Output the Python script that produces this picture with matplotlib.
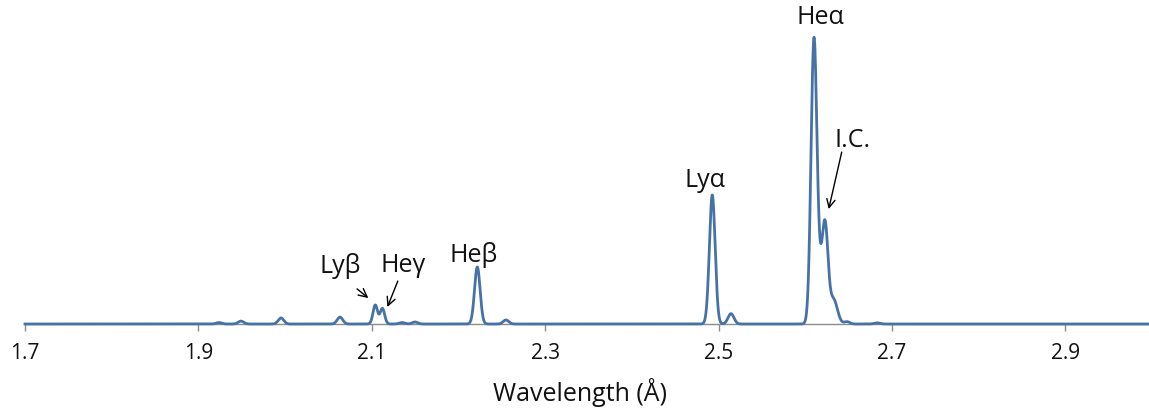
import numpy as np
import matplotlib.pyplot as plt

# --- line list (wavelength in A, peak height rel. to He-alpha) ---
line_centers = [1.9238, 1.9491, 1.9953, 2.0633, 2.1040, 2.1122, 2.1348, 2.1498,
                2.2217, 2.2548, 2.4927, 2.5143, 2.6100, 2.6168, 2.6228, 2.6325,
                2.6481, 2.6827]
line_heights = [0.005, 0.010, 0.021, 0.024, 0.066, 0.054, 0.005, 0.007,
                0.198, 0.014, 0.448, 0.036, 0.985, 0.10, 0.335, 0.085,
                0.008, 0.004]
line_sigmas = [0.0032, 0.0032, 0.0032, 0.0032, 0.0026, 0.0026, 0.0032, 0.0032,
               0.0032, 0.0032, 0.0033, 0.0034, 0.0034, 0.0032, 0.0034, 0.0045,
               0.0032, 0.0032]

# labels: (text, x, y)
labels = [('Heα', 2.617, 1.066), ('I.C.', 2.654, 0.642), ('Lyα', 2.484, 0.503),
          ('Heβ', 2.218, 0.243), ('Lyβ', 2.064, 0.205), ('Heγ', 2.136, 0.205)]
# arrows: (tail, tip)
arrows = [((2.642, 0.597), (2.627, 0.399)),
          ((2.083, 0.122), (2.096, 0.090)),
          ((2.130, 0.149), (2.118, 0.059))]

xticks = [1.7, 1.9, 2.1, 2.3, 2.5, 2.7, 2.9]

# spectrum built from the line list
wl = np.linspace(1.7, 3.0, 6000)
flux = np.zeros_like(wl)
for c, h, s in zip(line_centers, line_heights, line_sigmas):
    flux += h * np.exp(-0.5 * ((wl - c) / s) ** 2)

plt.rcParams['font.family'] = ['Open Sans', 'DejaVu Sans']

fig = plt.figure(figsize=(11.49, 4.10), dpi=100)
ax = fig.add_axes([25 / 1149, 85 / 410, 1124 / 1149, 325 / 410])

ax.plot(wl, flux, color='#4672A8', lw=2.0, clip_on=False, zorder=3)

ax.set_xlim(1.7, 1.7 + 1124 / 867)
ax.set_ylim(0, 325 / 288)
for s in ['top', 'left', 'right']:
    ax.spines[s].set_visible(False)
ax.spines['bottom'].set_color('#8c8c8c')
ax.spines['bottom'].set_linewidth(1.0)
ax.set_yticks([])
ax.set_xticks(xticks)
ax.set_xticklabels([f'{t:.1f}' for t in xticks])
ax.tick_params(axis='x', direction='out', length=5, width=1.0, color='#8c8c8c',
               labelsize=15, pad=8, labelcolor='#111111')
ax.set_xlabel('Wavelength (Å)', fontsize=18, labelpad=10, color='#111111')
ax.xaxis.label.set_x((580 - 25) / 1124)

for txt, x, y in labels:
    ax.text(x, y, txt, fontsize=18, ha='center', va='center', color='#111111')

for tail, tip in arrows:
    ax.annotate('', xy=tip, xytext=tail,
                arrowprops=dict(arrowstyle='->', color='black', lw=1.0,
                                mutation_scale=15, shrinkA=0, shrinkB=0))

fig.savefig('out.png', dpi=100)
